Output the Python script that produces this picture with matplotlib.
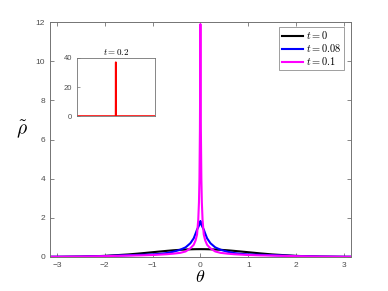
import numpy as np
import matplotlib
matplotlib.use('Agg')
import matplotlib.pyplot as plt

plt.rcParams['mathtext.fontset'] = 'cm'
plt.rcParams['font.family'] = ['Liberation Sans', 'DejaVu Sans']

# half-profiles (theta >= 0), mirrored below
th_half = [0, 0.005, 0.01, 0.02, 0.03, 0.045, 0.07, 0.1, 0.14, 0.21, 0.31, 0.42,
           0.56, 0.7, 0.84, 1.0, 1.25, 1.5, 2.0, 2.5, 3.0, 3.1416]
rho_t0 = [0.399, 0.399, 0.399, 0.399, 0.399, 0.398, 0.398, 0.397, 0.395, 0.390, 0.380, 0.365,
          0.341, 0.312, 0.280, 0.242, 0.183, 0.130, 0.054, 0.018, 0.004, 0.003]
rho_t008 = [1.84, 1.77, 1.72, 1.66, 1.60, 1.52, 1.40, 1.20, 0.95, 0.70, 0.49, 0.37,
            0.27, 0.20, 0.16, 0.13, 0.11, 0.09, 0.05, 0.02, 0.01, 0.01]
rho_t01 = [11.9, 9.0, 6.5, 4.0, 2.8, 1.9, 1.15, 0.85, 0.62, 0.44, 0.28, 0.21,
           0.17, 0.14, 0.12, 0.10, 0.08, 0.07, 0.04, 0.02, 0.01, 0.01]

# inset at t = 0.2
th_inset = [-3.1416, -0.01, 0, 0.01, 3.1416]
rho_inset = [0, 0, 37, 0, 0]

def mirror(th, r):
    th = np.asarray(th); r = np.asarray(r)
    return np.concatenate([-th[::-1], th[1:]]), np.concatenate([r[::-1], r[1:]])

grey = '0.45'
fig = plt.figure(figsize=(3.88, 2.91), dpi=100)
ax = fig.add_axes([0.129, 0.117, 0.775, 0.807])
for r, c, lab in [(rho_t0, 'black', '$t=0$'), (rho_t008, 'blue', '$t=0.08$'),
                  (rho_t01, 'magenta', '$t=0.1$')]:
    x, y = mirror(th_half, r)
    ax.plot(x, y, color=c, lw=1.5, label=lab)
ax.set_xlim(-np.pi, np.pi)
ax.set_ylim(0, 12)
ax.set_xticks([-3, -2, -1, 0, 1, 2, 3])
ax.set_yticks([0, 2, 4, 6, 8, 10, 12])
ax.tick_params(direction='in', top=True, right=True, labelsize=6, colors=grey,
               labelcolor='0.3', length=3, width=0.6)
for s in ax.spines.values():
    s.set_color(grey); s.set_linewidth(0.7)
ax.set_xlabel(r'$\theta$', fontsize=13, labelpad=0)
ax.set_ylabel(r'$\tilde{\rho}$', fontsize=14, rotation=0, labelpad=10)
leg = ax.legend(loc='upper right', fontsize=7.5, handlelength=2.0, borderpad=0.25,
                labelspacing=0.1, handletextpad=0.3, fancybox=False,
                bbox_to_anchor=(0.985, 0.99), borderaxespad=0.2)
leg.get_frame().set_edgecolor(grey)
leg.get_frame().set_linewidth(0.6)

axi = fig.add_axes([0.198, 0.601, 0.201, 0.2])
axi.plot(th_inset, rho_inset, color='red', lw=1.3)
axi.set_xlim(-np.pi, np.pi)
axi.set_ylim(0, 40)
axi.set_yticks([0, 20, 40])
axi.set_xticks([])
axi.tick_params(direction='in', labelsize=5.5, colors=grey, labelcolor='0.3',
                length=2, width=0.5)
for s in axi.spines.values():
    s.set_color(grey); s.set_linewidth(0.6)
axi.set_title('$t=0.2$', fontsize=6.5, pad=2)

fig.savefig('out.png', dpi=100)
